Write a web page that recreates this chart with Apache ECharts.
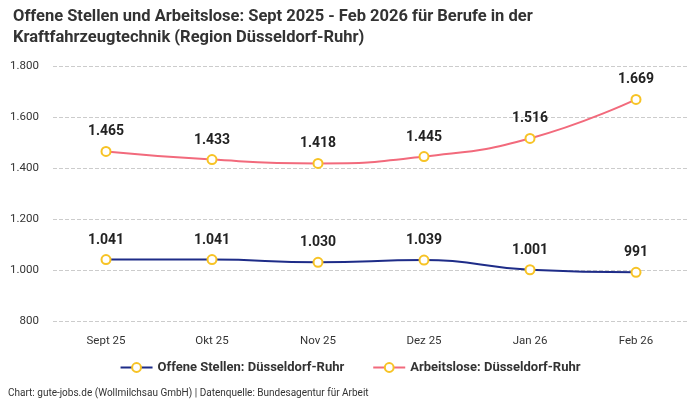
<!DOCTYPE html>
<html>
<head>
<meta charset="utf-8">
<script src="https://cdn.jsdelivr.net/npm/echarts@6/dist/echarts.min.js"></script>
<style>
  html, body { margin: 0; padding: 0; background: #fff; }
  #chart { width: 700px; height: 400px; }
</style>
</head>
<body>
<div id="chart"></div>
<script>
var months = ['Sept 25', 'Okt 25', 'Nov 25', 'Dez 25', 'Jan 26', 'Feb 26'];
var offeneStellen = [1041, 1041, 1030, 1039, 1001, 991];
var arbeitslose = [1465, 1433, 1418, 1445, 1516, 1669];

var FONT = '"Roboto", "Noto Sans", sans-serif';

// Zahlen im deutschen Format (Tausenderpunkt)
function fmt(v) {
  return String(v).replace(/\B(?=(\d{3})+(?!\d))/g, '.');
}

function makeSeries(name, data, color) {
  return {
    name: name,
    type: 'line',
    smooth: true,
    data: data,
    symbol: 'circle',
    symbolSize: 9,
    lineStyle: { color: color, width: 2 },
    itemStyle: { color: '#fff', borderColor: '#f7c325', borderWidth: 2 },
    label: {
      show: true,
      position: 'top',
      distance: 7,
      color: '#222',
      fontSize: 14,
      fontWeight: 'bold',
      fontFamily: FONT,
      formatter: function (p) { return fmt(p.value); }
    }
  };
}

var myChart = echarts.init(document.getElementById('chart'));
myChart.setOption({
  animation: false,
  textStyle: { fontFamily: FONT },
  title: {
    text: 'Offene Stellen und Arbeitslose: Sept 2025 - Feb 2026 für Berufe in der\nKraftfahrzeugtechnik (Region Düsseldorf-Ruhr)',
    left: 8,
    top: 1,
    textStyle: { fontSize: 16.5, fontWeight: 'bold', color: '#333', lineHeight: 21, fontFamily: FONT }
  },
  graphic: [{
    type: 'text',
    left: 8,
    top: 388,
    style: {
      text: 'Chart: gute-jobs.de (Wollmilchsau GmbH) | Datenquelle: Bundesagentur für Arbeit',
      fontSize: 10,
      fill: '#333',
      fontFamily: FONT
    }
  }],
  legend: {
    bottom: 21,
    left: 'center',
    itemWidth: 32,
    itemHeight: 11,
    itemGap: 28,
    textStyle: { fontSize: 13, fontWeight: 'bold', color: '#333', fontFamily: FONT },
    data: [
      { name: 'Offene Stellen: Düsseldorf-Ruhr', itemStyle: { color: '#fff', borderColor: '#f7c325', borderWidth: 2 } },
      { name: 'Arbeitslose: Düsseldorf-Ruhr', itemStyle: { color: '#fff', borderColor: '#f7c325', borderWidth: 2 } }
    ]
  },
  grid: { left: 53, right: 11, top: 66, bottom: 79 },
  xAxis: {
    type: 'category',
    data: months,
    boundaryGap: true,
    axisLine: { show: false },
    axisTick: { show: false },
    axisLabel: { color: '#333', fontSize: 11.5, margin: 14, fontFamily: FONT }
  },
  yAxis: {
    type: 'value',
    min: 800,
    max: 1800,
    interval: 200,
    axisLabel: { color: '#333', fontSize: 11.5, margin: 14, fontFamily: FONT, formatter: fmt },
    splitLine: { lineStyle: { type: 'dashed', color: '#ccc' } }
  },
  series: [
    makeSeries('Offene Stellen: Düsseldorf-Ruhr', offeneStellen, '#1e2c88'),
    makeSeries('Arbeitslose: Düsseldorf-Ruhr', arbeitslose, '#f26a7c')
  ]
});
</script>
</body>
</html>
